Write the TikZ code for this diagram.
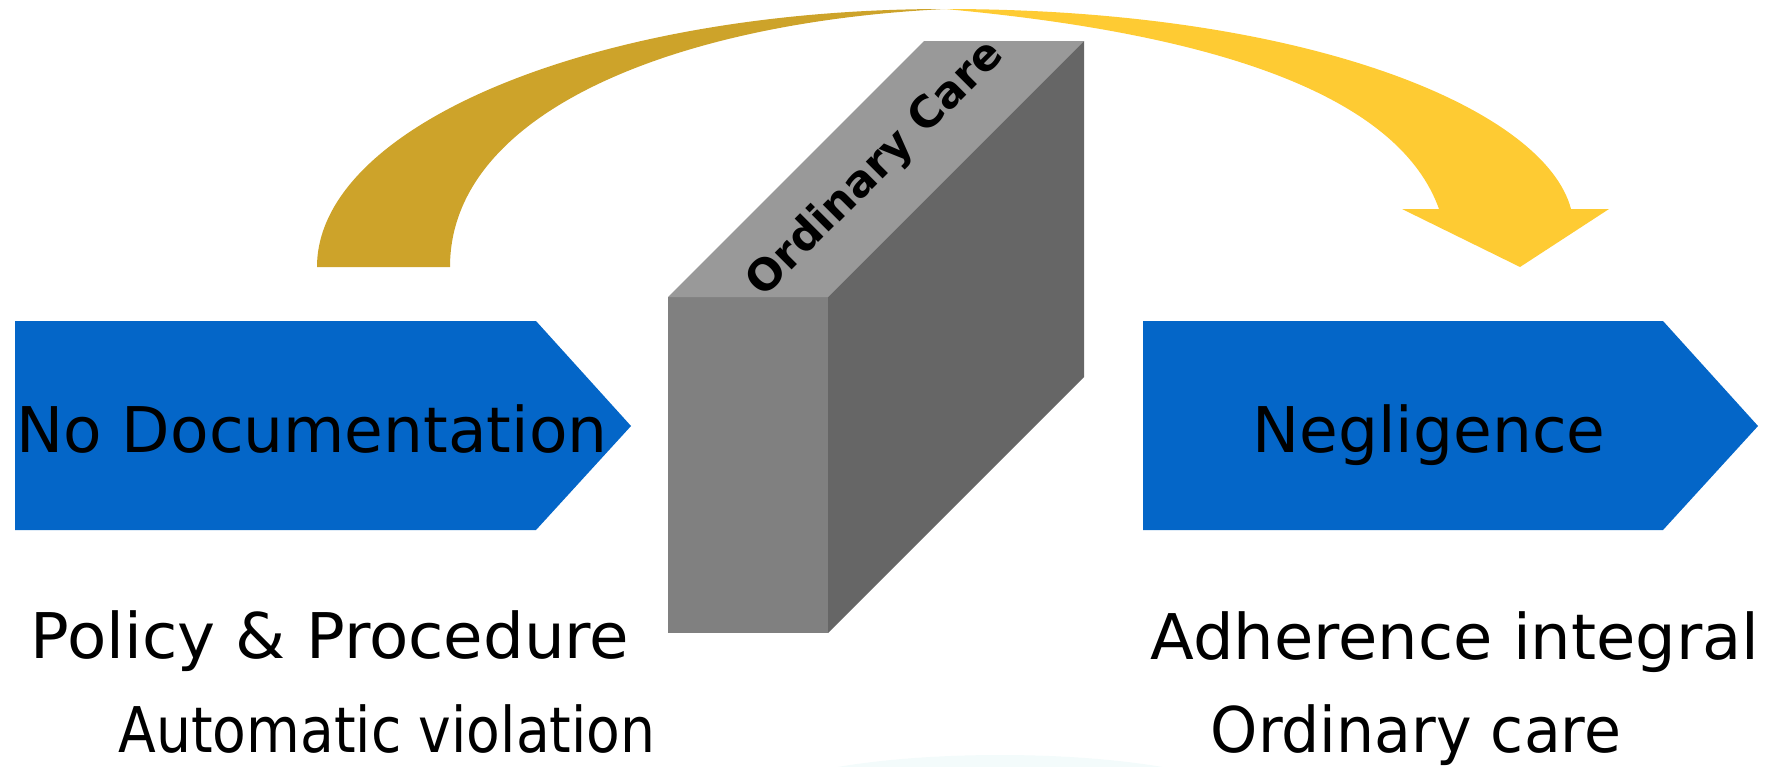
\documentclass[tikz,border=0pt]{standalone}
\usepackage{fontspec}
\setmainfont{DejaVu Sans}
\usepackage{xcolor}
\usepackage{tikz}
\usetikzlibrary{positioning}
\definecolor{docblue}{RGB}{4,102,200}
\definecolor{arcgold}{RGB}{205,163,42}
\definecolor{arcyellow}{RGB}{254,203,51}
\definecolor{wallfront}{RGB}{128,128,128}
\definecolor{walltop}{RGB}{153,153,153}
\definecolor{wallside}{RGB}{102,102,102}
\definecolor{glow}{RGB}{243,251,251}
\def\bigtxt{\fontsize{31.5}{36}\selectfont}

\begin{document}
\begin{tikzpicture}[x=0.5pt,y=-0.5pt,
  label/.style={font=\bigtxt,inner sep=0pt,anchor=base},
  banner/.style={fill=docblue}]
\useasboundingbox (0,0) rectangle (1771,766);
\begin{scope}
\clip (0,0) rectangle (1771,766);
\fill[glow] (1000,805) ellipse (250 and 50);
\end{scope}
% the two blue banners
\fill[banner] (15,321) -- (536,321) -- (631,426) -- (536,530) -- (15,530) -- cycle;
\fill[banner] (1143,321) -- (1663,321) -- (1758,426) -- (1663,530) -- (1143,530) -- cycle;
\node[label] (nodoc) at (312,452) {No Documentation};
\node[label] (negl) at (1429,452) {Negligence};
% the wall
\fill[wallfront] (668,297) rectangle (828,633);
\fill[walltop] (668,297) -- (828,297) -- (1084,41) -- (924,41) -- cycle;
\fill[wallside] (828,297) -- (1084,41) -- (1084,377) -- (828,633) -- cycle;
\node[rotate=45,inner sep=0pt,font=\bfseries\fontsize{21.75}{24}\selectfont] (care) at (876,169) {Ordinary Care};
% the jump over the wall
\fill[arcgold] (317,267) .. controls (317,125) and (596,9) .. (945,9) .. controls (680,22) and (450,110) .. (450,267) -- cycle;
\fill[arcyellow] (945,9) .. controls (1310,9) and (1545,110) .. (1571,209) -- (1609,209) -- (1520,267) -- (1402,209) -- (1439,209) .. controls (1400,100) and (1230,35) .. (945,9) -- cycle;
% texts below
\node[label] (policy) at (330,658) {\scalebox{1.02}[1]{Policy \& Procedure}};
\node[label] (auto) at (387,752) {\scalebox{0.876}[1]{Automatic violation}};
\node[label] (adher) at (1455,659) {\scalebox{1.015}[1]{Adherence integral}};
\node[label] (ordin) at (1416,752) {\scalebox{0.954}[1]{Ordinary care}};
\end{tikzpicture}
\end{document}
